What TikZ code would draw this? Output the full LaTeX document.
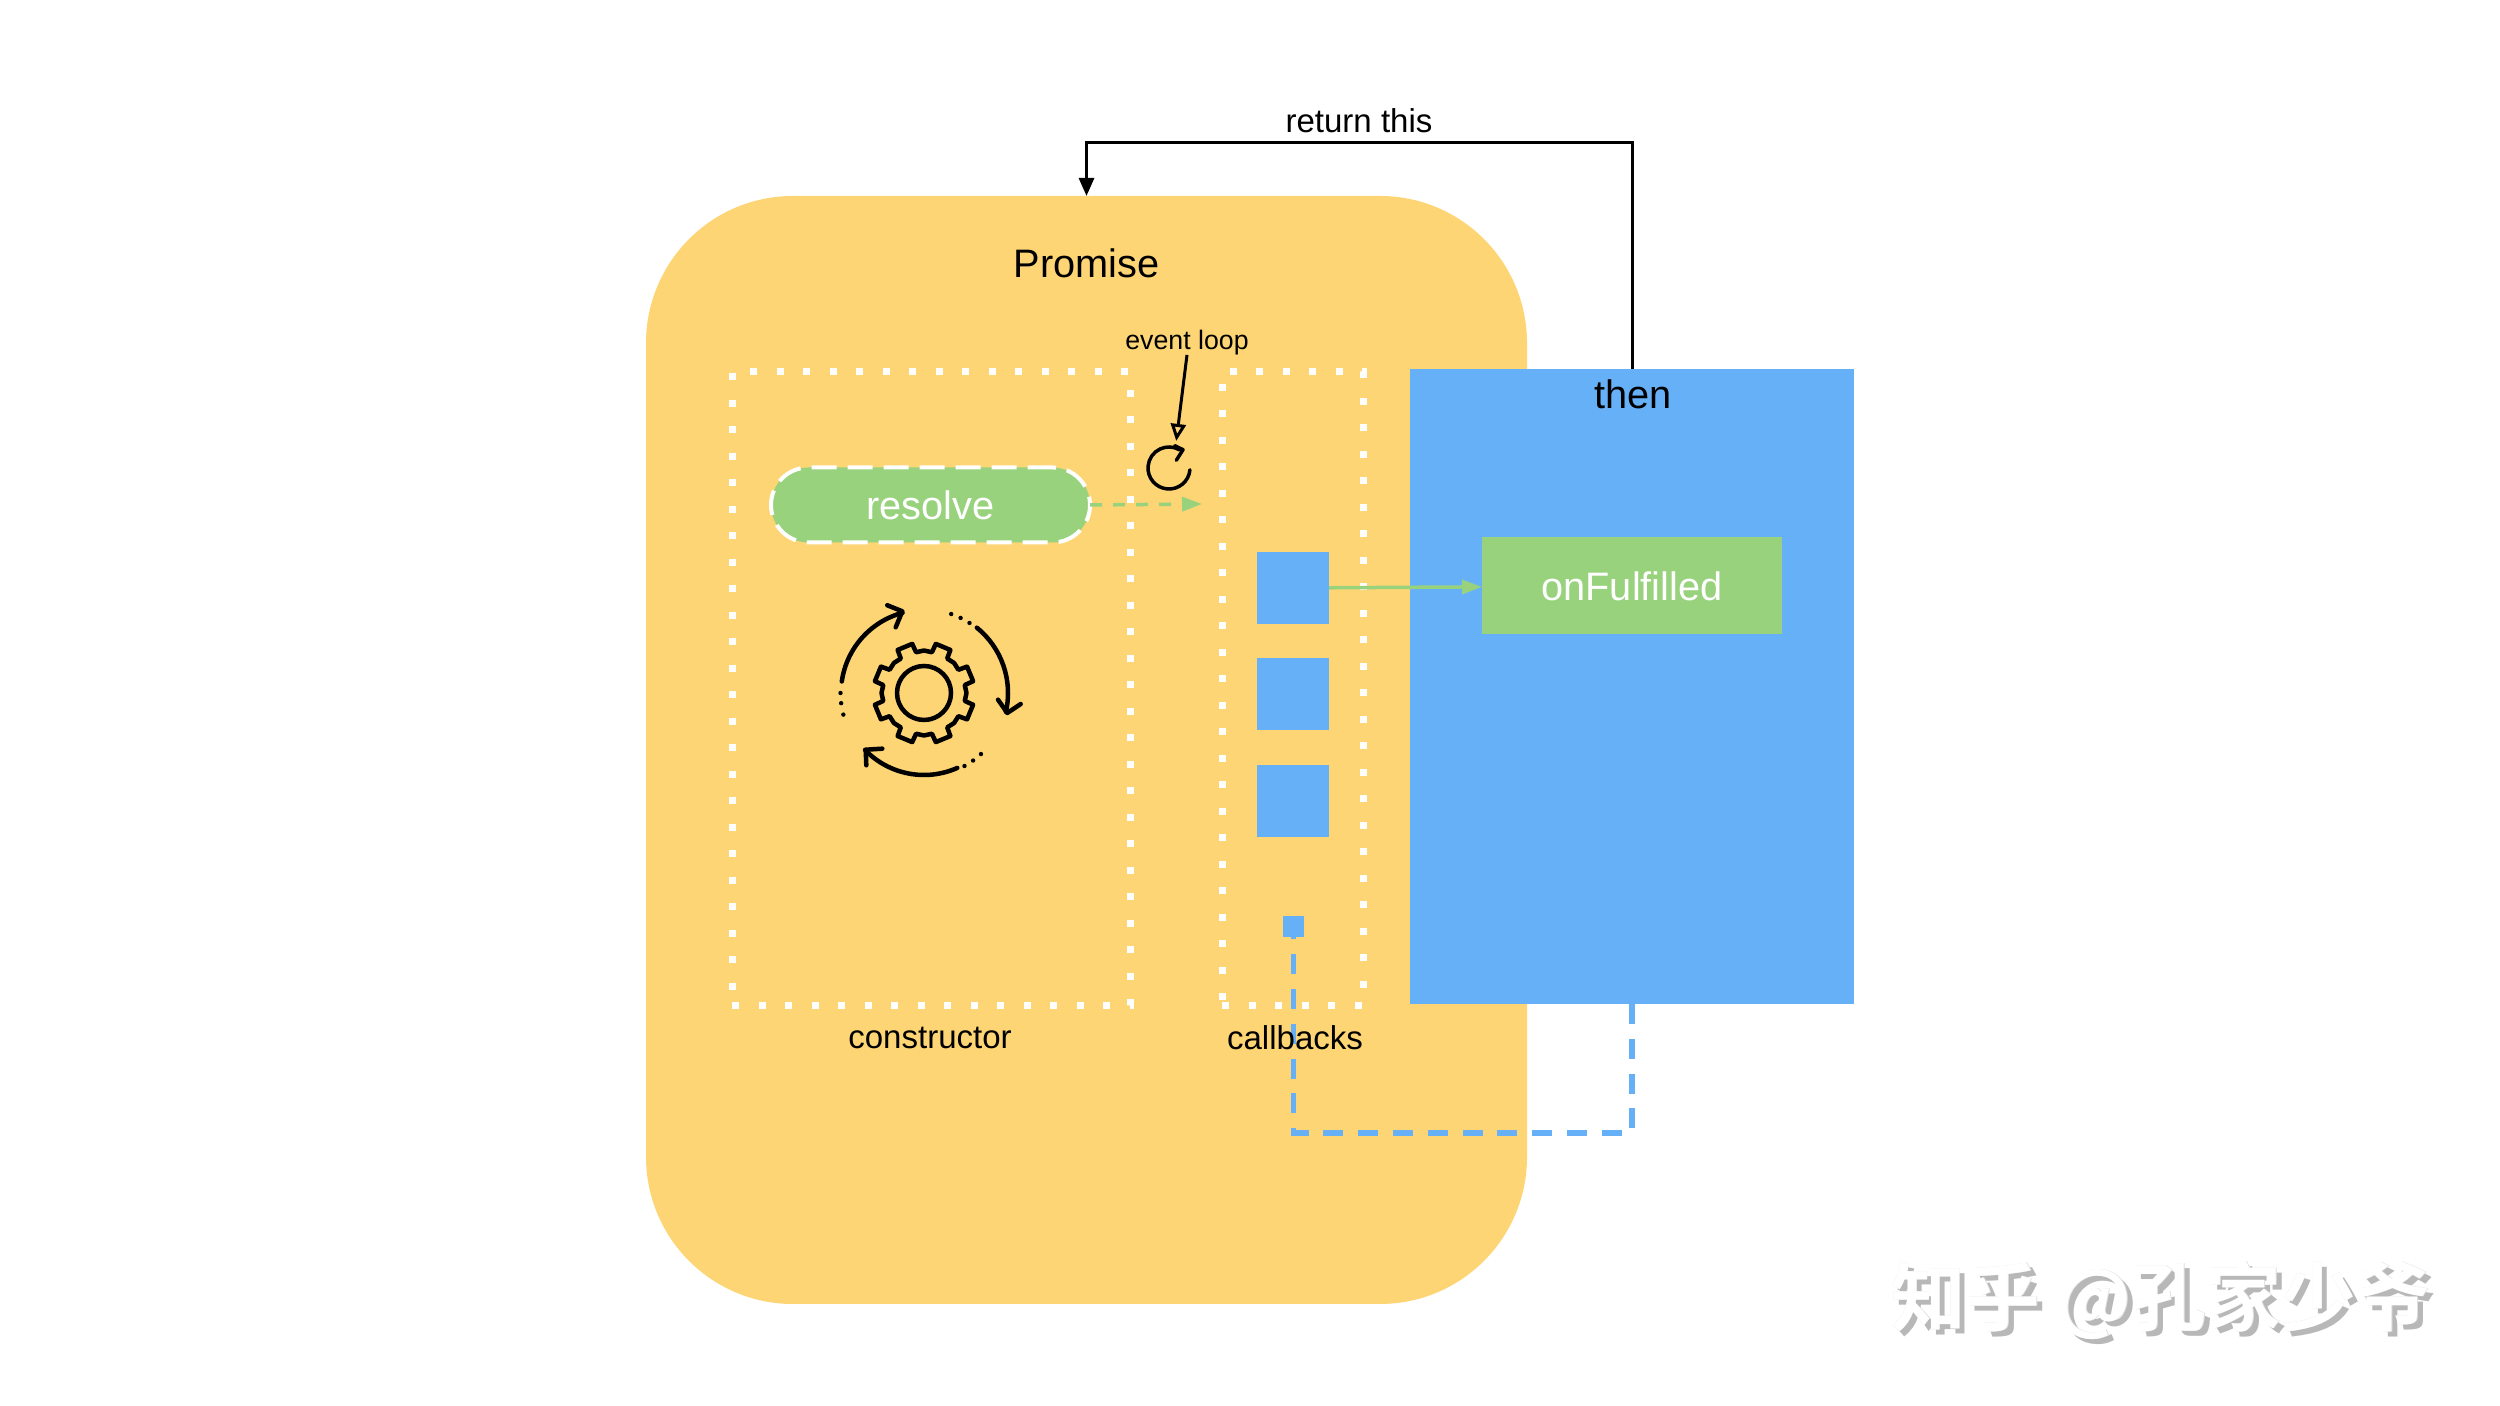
\documentclass[tikz,border=0pt]{standalone}
\usepackage{fontspec}
\setmainfont{Liberation Sans}
\newfontfamily\zhfont{Noto Sans CJK SC}[BoldFont={Noto Sans CJK SC Bold}]
\usetikzlibrary{arrows.meta}
\definecolor{promisey}{HTML}{FDD574}
\definecolor{thenb}{HTML}{66B0F8}
\definecolor{fulfilg}{HTML}{98D27D}
\begin{document}
\begin{tikzpicture}
  [every node/.style={inner sep=0,outer sep=0},
   big/.style={font=\fontsize{11.3}{13}\selectfont},
   mid/.style={font=\fontsize{9.4}{11}\selectfont},
   box/.style={shape=rectangle,fill=thenb},
   dotbox/.style={shape=rectangle,draw=white,line width=.07cm,dash pattern=on .07cm off .195cm},
   wmark/.style={font=\fontsize{21.2}{24}\selectfont\zhfont\bfseries}]
  \tikzstyle{greenline} = [draw=fulfilg,line width=.035cm,-{Triangle[length=.2cm,width=.14cm]}]
  \tikzstyle{blueline} = [draw=thenb,line width=.055cm,dash pattern=on .2cm off .148cm]
  \tikzstyle{icon} = [line width=.045cm,line cap=round,line join=round]
  \useasboundingbox (0,0) rectangle (25,14.06);

  \node[fill=promisey,rounded corners=1.47cm,minimum width=8.81cm,minimum height=11.08cm] (promise) at (10.865,6.56) {};
  \node[big] (promisetxt) at (10.865,11.43) {Promise};

  \node[big,text=white,fill=fulfilg,draw=white,line width=.04cm,dash pattern=on .25cm off .11cm,rounded corners=.375cm,minimum width=3.19cm,minimum height=.75cm] (resolve) at (9.305,9.01) {resolve};
  \coordinate (resolveto) at (12.02,9.02);
  \draw[greenline,dash pattern=on .12cm off .11cm] (resolve.east) -- (resolveto);

  \node[dotbox,minimum width=3.98cm,minimum height=6.34cm] (ctorbox) at (9.31,7.17) {};
  \node[dotbox,minimum width=1.41cm,minimum height=6.34cm] (cbbox) at (12.925,7.17) {};

  \node[box,minimum width=4.44cm,minimum height=6.35cm] (then) at (16.32,7.195) {};
  \node[big] (thentxt) at (16.33,10.12) {then};
  \node[big,text=white,fill=fulfilg,minimum width=3cm,minimum height=.97cm] (fulfilled) at (16.32,8.2) {onFulfilled};

  \foreach \name/\y in {cb1/8.18,cb2/7.12,cb3/6.05}
    \node[box,minimum size=.72cm] (\name) at (12.93,\y) {};
  \node[box,minimum size=.21cm] (cbtiny) at (12.935,4.79) {};

  \draw[greenline] (cb1) -- (fulfilled);
  \draw[blueline] (then.south) -- ++(0,-1.29) -| (cbtiny.south);
  \draw[line width=.03cm,-{Triangle[length=.18cm,width=.15cm]}] (then.north) -- ++(0,2.26) -| (promise.north);

  \node[mid] (returntxt) at (13.59,12.85) {return this};
  \node[mid] (ctortxt) at (9.3,3.68) {constructor};
  \node[mid] (cbtxt) at (12.95,3.68) {callbacks};

  \node[font=\fontsize{7.6}{9}\selectfont] (looptxt) at (11.87,10.635) {event loop};
  \node[circle,minimum size=.56cm] (looper) at (11.69,9.38) {};
  \draw[line width=.03cm,-{Triangle[open,length=.17cm,width=.15cm]}] (looptxt.south) -- (looper.75);
  \draw[line width=.035cm,line cap=round] (looper) ++(-5:.21) arc (-5:-300:.21);
  \draw[line width=.035cm,line cap=round,line join=round] (looper) ++(.057,.223) -- ++(.083,-.04) -- ++(-.067,-.106);

  \coordinate (gear) at (9.24,7.13);
  \begin{scope}[shift={(gear)},icon]
    \draw (0,0) circle (.27);
    \draw (22.5-11.5:.415)
      \foreach \a in {22.5,67.5,...,337.5} {
        -- (\a-11.5:.415) -- (\a-9:.505) -- (\a+9:.505) -- (\a+11.5:.415) -- (\a+22.5:.425)
      } -- cycle;
    \draw (172:.83) arc (172:105:.83);
    \draw (-.367,.877) -- (-.217,.817) -- (-.283,.657);
    \draw (51:.84) arc (51:-13:.84);
    \draw (.74,-.067) -- (.833,-.2) -- (.967,-.11);
    \draw (-66:.82) arc (-66:-136:.82);
    \draw (-.417,-.557) -- (-.583,-.567) -- (-.577,-.723);
    \foreach \a in {180,187,195,57,64,71,-61,-54,-47}
      \fill (\a:.835) circle (.022);
  \end{scope}

  \node[wmark,text=black!28] (markshadow) at (21.66,1.0) {知乎 @孔家少爷};
  \node[wmark,text=black!12] (markedge) at (21.61,1.05) {知乎 @孔家少爷};
  \node[wmark,text=white] (marktxt) at (21.605,1.055) {知乎 @孔家少爷};
\end{tikzpicture}
\end{document}
